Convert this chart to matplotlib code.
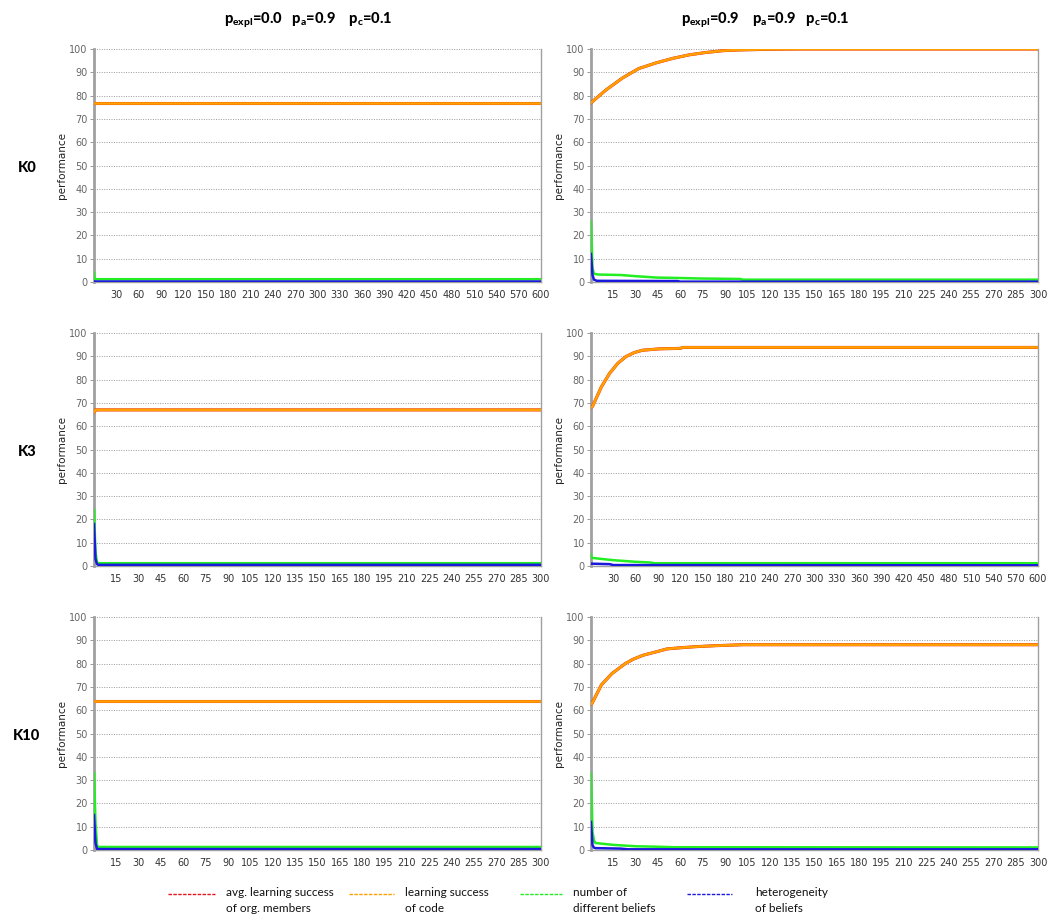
import numpy as np
import matplotlib
matplotlib.use('Agg')
import matplotlib.pyplot as plt
from matplotlib.lines import Line2D

plt.rcParams['font.family'] = ['Lato', 'DejaVu Sans']
plt.rcParams['mathtext.fontset'] = 'custom'
plt.rcParams['mathtext.rm'] = 'Lato'
plt.rcParams['mathtext.bf'] = 'Lato:black'

# --- data (period, value) ---
# left column: p_expl=0.0
k0_l_x = [0, 1, 600]
k0_l_code = [77, 77, 77]
k0_l_gx = [0, 0.5, 1, 600]
k0_l_green = [4, 1.2, 1.2, 1.2]
k0_l_blue = [0.3, 0.3, 0.3, 0.3]

k3_l_x = [0, 1, 2, 300]
k3_l_code = [66, 67, 67, 67]
k3_l_gx = [0, 1, 2, 3, 300]
k3_l_green = [24, 6, 1.6, 1.2, 1.2]
k3_l_blue = [18, 3, 0.8, 0.5, 0.5]

k10_l_x = [0, 1, 300]
k10_l_code = [64, 64, 64]
k10_l_gx = [0, 1, 2, 3, 300]
k10_l_green = [33, 12, 2, 1.3, 1.3]
k10_l_blue = [15, 3, 0.5, 0.4, 0.4]

# right column: p_expl=0.9
k0_r_x = [0, 10, 21, 32, 44, 55, 66, 77, 89, 100, 122, 140, 300]
k0_r_code = [76.9, 82.4, 87.5, 91.6, 94.1, 96, 97.5, 98.5, 99.3, 99.6, 99.9,
             100, 100]
k0_r_gx = [0, 1, 2, 5, 20, 30, 44, 60, 73, 100, 102, 300]
k0_r_green = [26, 6, 3.5, 3.2, 3.0, 2.5, 1.9, 1.7, 1.5, 1.3, 1.0, 1.0]
k0_r_bx = [0, 1, 2, 4, 58, 60, 300]
k0_r_blue = [12, 3, 1, 0.5, 0.4, 0.15, 0.15]

k3_r_x = [0, 2, 14, 25, 36, 47, 58, 69, 92, 120, 123, 600]
k3_r_code = [68, 68.5, 76.9, 82.7, 87, 89.9, 91.6, 92.6, 93.2, 93.4, 93.8,
             93.8]
k3_r_gx = [0, 1, 15, 30, 60, 80, 85, 600]
k3_r_green = [5, 3.5, 3, 2.5, 1.8, 1.5, 1.2, 1.2]
k3_r_bx = [0, 25, 30, 600]
k3_r_blue = [1, 0.8, 0.4, 0.3]

k10_r_x = [0, 0.5, 7, 14, 23, 28, 35, 44, 51, 60, 71, 84, 102, 300]
k10_r_code = [62.7, 62.7, 70.9, 75.7, 80, 81.8, 83.6, 85.1, 86.3, 86.8, 87.3,
              87.7, 88.1, 88.1]
k10_r_gx = [0, 1, 2, 3, 15, 30, 45, 55, 300]
k10_r_green = [33, 8, 4, 3, 2.2, 1.6, 1.4, 1.2, 1.1]
k10_r_bx = [0, 1, 2, 3, 20, 25, 300]
k10_r_blue = [12, 2, 1, 0.8, 0.6, 0.3, 0.3]

panels = [
    # row, col, xmax, xstep, code x, code, green x, green, blue x, blue
    (0, 0, 600, 30, k0_l_x, k0_l_code, k0_l_gx, k0_l_green, k0_l_gx, k0_l_blue),
    (0, 1, 300, 15, k0_r_x, k0_r_code, k0_r_gx, k0_r_green, k0_r_bx, k0_r_blue),
    (1, 0, 300, 15, k3_l_x, k3_l_code, k3_l_gx, k3_l_green, k3_l_gx, k3_l_blue),
    (1, 1, 600, 30, k3_r_x, k3_r_code, k3_r_gx, k3_r_green, k3_r_bx, k3_r_blue),
    (2, 0, 300, 15, k10_l_x, k10_l_code, k10_l_gx, k10_l_green, k10_l_gx, k10_l_blue),
    (2, 1, 300, 15, k10_r_x, k10_r_code, k10_r_gx, k10_r_green, k10_r_bx, k10_r_blue),
]

row_labels = ['K0', 'K3', 'K10']
col_titles = [r'$\mathbf{p_{expl}}$=0.0   $\mathbf{p_a}$=0.9    $\mathbf{p_c}$=0.1',
              r'$\mathbf{p_{expl}}$=0.9    $\mathbf{p_a}$=0.9   $\mathbf{p_c}$=0.1']
legend_labels = ['avg. learning success\nof org. members',
                 'learning success\nof code',
                 'number of\ndifferent beliefs',
                 'heterogeneity\nof beliefs']
colors = ['#e8141c', '#ffa000', '#22ee22', '#1a1adc']

W, H = 1052, 917
fig = plt.figure(figsize=(W / 100, H / 100), dpi=100)

col_x = [94 / W, 591 / W]
col_w = 447 / W
row_top = [49, 333, 617]
row_hpx = 233

for (r, c, xmax, xstep, cx, code, gx, green, bx, blue) in panels:
    ax = fig.add_axes([col_x[c], 1 - (row_top[r] + row_hpx) / H, col_w,
                       row_hpx / H])
    ax.plot(cx, code, color=colors[0], lw=2.2, zorder=3)
    ax.plot(cx, code, color=colors[1], lw=1.9, zorder=4)
    ax.plot(gx, green, color=colors[2], lw=1.8, zorder=3)
    ax.plot(bx, blue, color=colors[3], lw=1.8, zorder=4)
    ax.set_xlim(0, xmax)
    ax.set_ylim(0, 100)
    ax.set_yticks(np.arange(0, 101, 10))
    ax.set_xticks(np.arange(xstep, xmax + 1, xstep))
    ax.yaxis.grid(True, color='#999999', ls=(0, (1, 1.5)), lw=0.7)
    ax.set_axisbelow(True)
    ax.tick_params(axis='y', labelsize=7, colors='#888888', labelcolor='#666666',
                   length=3, width=0.6, pad=1.5)
    ax.tick_params(axis='x', labelsize=7, labelcolor='#333333', length=0, pad=6)
    for lab in ax.get_xticklabels() + ax.get_yticklabels():
        lab.set_fontfamily('DejaVu Sans')
    ax.spines['top'].set_visible(False)
    for s in ['left', 'right', 'bottom']:
        ax.spines[s].set_color('#a0a0a0')
        ax.spines[s].set_linewidth(1.0)
    ax.spines['left'].set_linewidth(2.0)
    ax.set_ylabel('performance', fontsize=7.5, fontfamily='DejaVu Sans',
                  color='#222222')
    ax.yaxis.set_label_coords(-27 / 447, 0.5)

for i, lab in enumerate(row_labels):
    fig.text(27 / W, 1 - (row_top[i] + row_hpx * 0.51) / H, lab, fontsize=10.5,
             fontweight='black', ha='center', va='center')

fig.text(308 / W, 1 - 20 / H, col_titles[0], fontsize=10.5, fontweight='black',
         ha='center', va='center')
fig.text(765 / W, 1 - 20 / H, col_titles[1], fontsize=10.5, fontweight='black',
         ha='center', va='center')

# legend drawn by hand so the key line sits beside the first text line
leg_handle_x = [(168, 215), (349, 394), (520, 562), (687, 732)]
leg_text_x = [226, 405, 573, 755]
for col, (x0, x1), tx, lab in zip(colors, leg_handle_x, leg_text_x,
                                  legend_labels):
    fig.add_artist(Line2D([x0 / W, x1 / W], [1 - 894 / H, 1 - 894 / H],
                          transform=fig.transFigure, color=col, lw=1.0,
                          ls=(0, (2.5, 1))))
    fig.text(tx / W, 1 - 887 / H, lab, fontsize=8.5, ha='left', va='top',
             linespacing=1.55, color='#111111')

fig.savefig('out.png', dpi=100)
